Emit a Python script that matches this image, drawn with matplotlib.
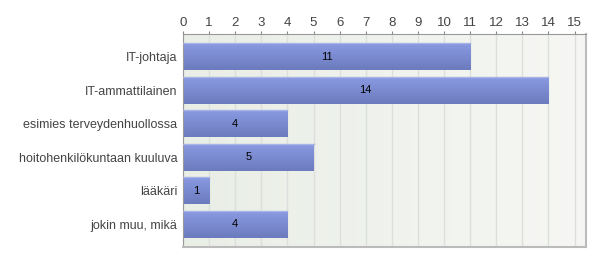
import numpy as np
import matplotlib.pyplot as plt
from matplotlib.colors import LinearSegmentedColormap

plt.rcParams['font.family'] = ['Liberation Sans', 'DejaVu Sans']

categories = ['IT-johtaja', 'IT-ammattilainen', 'esimies terveydenhuollossa',
              'hoitohenkilökuntaan kuuluva', 'lääkäri', 'jokin muu, mikä']
values = [11, 14, 4, 5, 1, 4]
xticks = list(range(0, 16))

fig = plt.figure(figsize=(6.0, 2.62), dpi=100)
ax = fig.add_axes([183/600, 15/262, 402.5/600, 213/262])

xmax = 15.42
ymin, ymax = -0.67, len(categories) - 1 + 0.67
ax.set_xlim(0, xmax)
ax.set_ylim(ymax, ymin)

# background gradient
bg = LinearSegmentedColormap.from_list('bg', ['#e9eee6', '#f6f7f4'])
ax.imshow(np.linspace(0, 1, 256).reshape(1, -1), cmap=bg, aspect='auto',
          extent=[0, xmax, ymax, ymin], zorder=0)

for t in xticks:
    ax.axvline(t, color='#dcdfdc', lw=1, zorder=1)

bar_cmap = LinearSegmentedColormap.from_list('bar', ['#8a9ae2', '#6c7bbd'])
y = np.arange(len(categories))
bars = ax.barh(y, values, height=0.8, color='none', edgecolor='none', zorder=2)
for b, v in zip(bars, values):
    x0, y0 = b.get_x(), b.get_y()
    w, h = b.get_width(), b.get_height()
    im = ax.imshow(np.linspace(0, 1, 64).reshape(-1, 1), cmap=bar_cmap,
                   aspect='auto', extent=[x0, x0 + w, y0 + h, y0], zorder=2)
    im.set_clip_path(b)
    ax.plot([x0, x0 + w], [y0, y0], color='#a9b4e6', lw=1, zorder=3)
    ax.text(v / 2, b.get_y() + h / 2, str(v), ha='center', va='center',
            fontsize=8, color='black', zorder=4)

ax.set_ylim(ymax, ymin)
ax.set_xlim(0, xmax)

ax.set_yticks(y)
ax.set_yticklabels(categories, fontsize=9, color='#444444')
ax.tick_params(axis='y', length=0, pad=4)
ax.set_xticks(xticks)
ax.xaxis.tick_top()
ax.tick_params(axis='x', labelsize=9.5, labelcolor='#444444', color='#888888',
               length=2.5, pad=1)

for s in ['top', 'left']:
    ax.spines[s].set_color('#999999')
for s in ['bottom', 'right']:
    ax.spines[s].set_color('#bbbbbb')
    ax.spines[s].set_linewidth(1.5)

fig.savefig('out.png', dpi=100)
